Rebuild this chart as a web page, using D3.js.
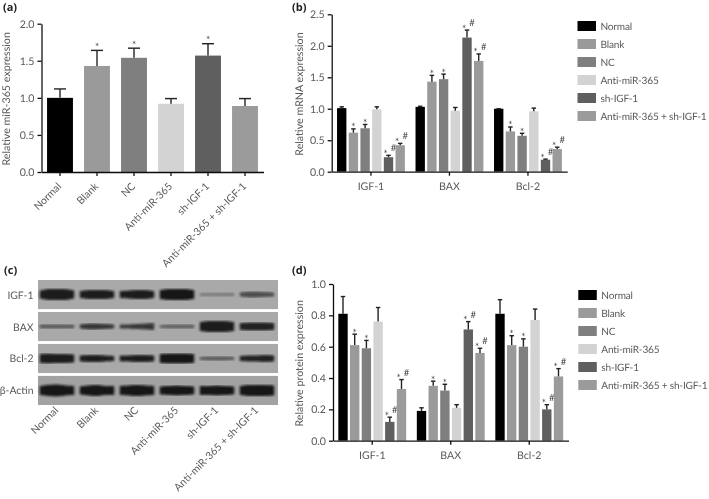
<!DOCTYPE html>
<html>
<head>
<meta charset="utf-8">
<script src="https://cdn.jsdelivr.net/npm/d3@7/dist/d3.min.js"></script>
<style>
  html, body { margin: 0; padding: 0; background: #fff; }
  text { font-family: Lato, sans-serif; fill: #5a5a5a; text-rendering: geometricPrecision; }
  .panel-label { font-family: "Open Sans", sans-serif; font-weight: 700; font-size: 11px; fill: #222; }
  .axis path, .axis line { stroke: #111; stroke-width: 1.3; }
  .axis text { font-size: 10.6px; fill: #5a5a5a; font-family: Lato, sans-serif; }
  .axis-label { font-size: 10.4px; }
  .title-label { font-size: 10.7px; }
  .legend text { font-size: 10.1px; letter-spacing: -0.2px; }
  .mark { font-size: 11px; fill: #444; }
  .hash { font-size: 9.5px; fill: #444; }
</style>
</head>
<body>
<div id="chart-area"></div>
<script>
const treatments = ['Normal', 'Blank', 'NC', 'Anti-miR-365', 'sh-IGF-1', 'Anti-miR-365 + sh-IGF-1'];
const treatmentColors = ['#000000', '#9a9a9a', '#7f7f7f', '#d3d3d3', '#5e5e5e', '#9b9b9b'];
const genes = ['IGF-1', 'BAX', 'Bcl-2'];
const marksSingle = ['', '*', '*', '', '*', ''];
const marksGrouped = ['', '*', '*', '', '*#', '*#'];

const mirValues = [1.0, 1.43, 1.54, 0.92, 1.57, 0.89];
const mirTops = [1.12, 1.64, 1.67, 0.99, 1.73, 0.99];

const mrnaValues = [
  [1.01, 0.62, 0.69, 0.99, 0.23, 0.42],
  [1.03, 1.43, 1.47, 0.97, 2.13, 1.76],
  [1.0, 0.64, 0.57, 0.96, 0.19, 0.36]
];
const mrnaTops = [
  [1.03, 0.68, 0.75, 1.03, 0.26, 0.45],
  [1.04, 1.53, 1.55, 1.02, 2.25, 1.87],
  [1.0, 0.71, 0.61, 1.01, 0.2, 0.39]
];

const proteinValues = [
  [0.81, 0.61, 0.59, 0.76, 0.12, 0.33],
  [0.19, 0.35, 0.32, 0.21, 0.71, 0.56],
  [0.81, 0.61, 0.6, 0.77, 0.2, 0.41]
];
const proteinTops = [
  [0.92, 0.68, 0.64, 0.85, 0.15, 0.39],
  [0.21, 0.38, 0.36, 0.23, 0.76, 0.59],
  [0.9, 0.67, 0.65, 0.84, 0.23, 0.46]
];

const blotRows = ['IGF-1', 'BAX', 'Bcl-2', 'β-Actin'];
// band thickness read across each lane, five samples per band
const blotThickness = [
  [[7, 10, 10, 10, 7], [6, 8, 8, 8, 6], [6, 7, 8, 8, 6], [8, 10, 10, 10, 8], [2, 2.5, 2.5, 3, 2.5], [3, 5, 5, 4, 3]],
  [[3, 3, 3, 3, 3], [3, 5, 5, 4, 3], [3, 3, 4, 5, 6], [2, 3, 3, 3, 3], [8, 10, 10, 10, 8], [6, 7, 7, 7, 6]],
  [[8, 9, 8, 8, 7], [5, 6, 6, 5, 4], [5, 5, 6, 6, 5], [8, 9, 9, 9, 8], [2, 3, 3, 3, 2], [4, 5, 5, 6, 5]],
  [[8, 10, 11, 9, 8], [7, 9, 10, 8, 8], [8, 9, 10, 9, 8], [7, 8, 9, 8, 7], [8, 8, 9, 8, 7], [8, 10, 10, 10, 9]]
];
const blotDarkness = [
  [0.95, 0.95, 0.95, 1, 0.3, 0.62],
  [0.55, 0.78, 0.78, 0.5, 0.95, 0.92],
  [0.95, 0.95, 0.95, 1, 0.55, 0.92],
  [1, 1, 1, 1, 1, 1]
];
const bandSamples = [0, 1, 2, 3, 4];

const svg = d3.select('#chart-area').append('svg')
  .attr('width', 709)
  .attr('height', 499)
  .style('display', 'block');

const defs = svg.append('defs');
defs.append('filter').attr('id', 'soft').append('feGaussianBlur').attr('stdDeviation', 0.35);
defs.append('filter').attr('id', 'band-blur').append('feGaussianBlur').attr('stdDeviation', 0.9);

const root = svg.append('g').attr('filter', 'url(#soft)');

const panelLabel = (text, x, y) => {
  root.append('text').attr('class', 'panel-label').attr('x', x).attr('y', y).text(text);
};

const addYAxis = (g, y, ticks, left, title, titleX) => {
  g.append('g')
    .attr('class', 'axis')
    .attr('transform', `translate(${left},0)`)
    .call(d3.axisLeft(y).tickValues(ticks).tickFormat(d3.format('.1f')).tickSize(4).tickSizeOuter(0));
  const [bottom, top] = y.range();
  g.append('text')
    .attr('class', 'title-label')
    .attr('text-anchor', 'middle')
    .attr('transform', `translate(${titleX},${(bottom + top) / 2 + 1}) rotate(-90)`)
    .text(title);
};

const addBar = (g, cx, width, value, errTop, y, color, cap) => {
  g.append('rect')
    .attr('x', cx - width / 2)
    .attr('y', y(value))
    .attr('width', width)
    .attr('height', y(0) - y(value))
    .attr('fill', color);
  g.append('line')
    .attr('x1', cx).attr('x2', cx)
    .attr('y1', y(value)).attr('y2', y(errTop))
    .attr('stroke', '#222').attr('stroke-width', 1.4);
  g.append('line')
    .attr('x1', cx - cap / 2).attr('x2', cx + cap / 2)
    .attr('y1', y(errTop)).attr('y2', y(errTop))
    .attr('stroke', '#222').attr('stroke-width', 1.4);
};

const addMarks = (g, cx, errTop, mark, lift) => {
  if (mark.includes('*')) {
    g.append('text').attr('class', 'mark').attr('text-anchor', 'middle')
      .attr('x', mark.includes('#') ? cx - 3 : cx).attr('y', errTop + lift).text('*');
  }
  if (mark.includes('#')) {
    g.append('text').attr('class', 'hash').attr('text-anchor', 'middle')
      .attr('x', cx + 5).attr('y', errTop - 4).text('#');
  }
};

const addLegend = (left, top) => {
  const rowY = d3.scaleBand().domain(treatments).range([top, top + 108]);
  const legend = root.append('g').attr('class', 'legend');
  treatments.forEach((t, i) => {
    legend.append('rect')
      .attr('x', left).attr('y', rowY(t) + 4)
      .attr('width', 18.5).attr('height', 10)
      .attr('fill', treatmentColors[i]);
    legend.append('text')
      .attr('x', left + 23).attr('y', rowY(t) + 12.7)
      .text(t);
  });
};

const rotatedLabels = (g, x, labelY) => {
  treatments.forEach(t => {
    g.append('text')
      .attr('class', 'axis-label')
      .attr('text-anchor', 'end')
      .attr('transform', `translate(${x(t) + x.bandwidth() / 2 + 2},${labelY}) rotate(-45)`)
      .text(t);
  });
};

const drawSingle = () => {
  const g = root.append('g');
  const x = d3.scaleBand().domain(treatments).range([41.5, 263.5]).paddingInner(0.3).paddingOuter(0.15);
  const y = d3.scaleLinear().domain([0, 2]).range([172, 23.7]);
  treatments.forEach((t, i) => {
    const cx = x(t) + x.bandwidth() / 2;
    addBar(g, cx, x.bandwidth(), mirValues[i], mirTops[i], y, treatmentColors[i], 12);
    addMarks(g, cx, y(mirTops[i]), marksSingle[i], 0.5);
  });
  g.append('g')
    .attr('class', 'axis')
    .attr('transform', `translate(0,${y(0)})`)
    .call(d3.axisBottom(x).tickSize(4).tickSizeOuter(0).tickFormat(''));
  addYAxis(g, y, [0, 0.5, 1, 1.5, 2], x.range()[0], 'Relative miR-365 expression', 10);
  rotatedLabels(g, x, 187);
};

const drawGrouped = (values, tops, y, ticks, left, title, titleX) => {
  const g = root.append('g');
  const x0 = d3.scaleBand().domain(genes).range([left, left + 235.5]);
  const x1 = d3.scaleBand().domain(treatments).range([0, x0.bandwidth()]).paddingInner(0.2).paddingOuter(0.455);
  genes.forEach((gene, gi) => {
    treatments.forEach((t, i) => {
      const cx = x0(gene) + x1(t) + x1.bandwidth() / 2;
      addBar(g, cx, x1.bandwidth(), values[gi][i], tops[gi][i], y, treatmentColors[i], 4.5);
      addMarks(g, cx, y(tops[gi][i]), marksGrouped[i], 2.5);
    });
  });
  const xAxis = g.append('g')
    .attr('class', 'axis')
    .attr('transform', `translate(0,${y(0)})`)
    .call(d3.axisBottom(x0).tickSize(4).tickSizeOuter(0));
  xAxis.selectAll('text').attr('dy', '1.05em');
  addYAxis(g, y, ticks, left, title, titleX);
};

const drawBlot = () => {
  const g = root.append('g');
  const lane = d3.scaleBand().domain(treatments).range([37, 277]);
  const row = d3.scaleBand().domain(blotRows).range([280, 405]).paddingInner(0.09);
  const sample = d3.scalePoint().domain(bandSamples).range([-0.42, 0.42]);
  const band = d3.area().curve(d3.curveCatmullRom);

  blotRows.forEach((name, r) => {
    const top = row(name);
    const mid = top + row.bandwidth() / 2;
    g.append('rect')
      .attr('x', lane.range()[0] + 1).attr('y', top)
      .attr('width', lane.range()[1] - lane.range()[0]).attr('height', row.bandwidth())
      .attr('fill', r === 3 ? '#a2a2a2' : '#a9a9a9');
    g.append('text')
      .attr('class', 'axis-label')
      .attr('text-anchor', 'end')
      .attr('x', 33.5).attr('y', mid + 4)
      .text(name);
    treatments.forEach((t, i) => {
      const cx = lane(t) + lane.bandwidth() / 2;
      const points = bandSamples.map(s => {
        const px = cx + sample(s) * lane.bandwidth();
        const half = blotThickness[r][i][s] / 2;
        return { px, half };
      });
      band.x(p => p.px).y0(p => mid + p.half).y1(p => mid - p.half);
      g.append('path')
        .attr('d', band(points))
        .attr('fill', '#141414')
        .attr('stroke', '#141414')
        .attr('stroke-width', 1)
        .attr('opacity', blotDarkness[r][i])
        .attr('filter', 'url(#band-blur)');
    });
  });
  rotatedLabels(g, lane, 411);
};

panelLabel('(a)', 3, 11);
panelLabel('(b)', 292, 11);
panelLabel('(c)', 4, 274);
panelLabel('(d)', 292, 274);

drawSingle();
drawGrouped(mrnaValues, mrnaTops, d3.scaleLinear().domain([0, 2.5]).range([171.7, 14.3]),
  [0, 0.5, 1, 1.5, 2, 2.5], 331.7, 'Relative mRNA expression', 303);
drawBlot();
drawGrouped(proteinValues, proteinTops, d3.scaleLinear().domain([0, 1]).range([440.7, 284]),
  [0, 0.2, 0.4, 0.6, 0.8, 1], 333, 'Relative protein expression', 303);

addLegend(577.5, 17);
addLegend(578.3, 286);
</script>
</body>
</html>
